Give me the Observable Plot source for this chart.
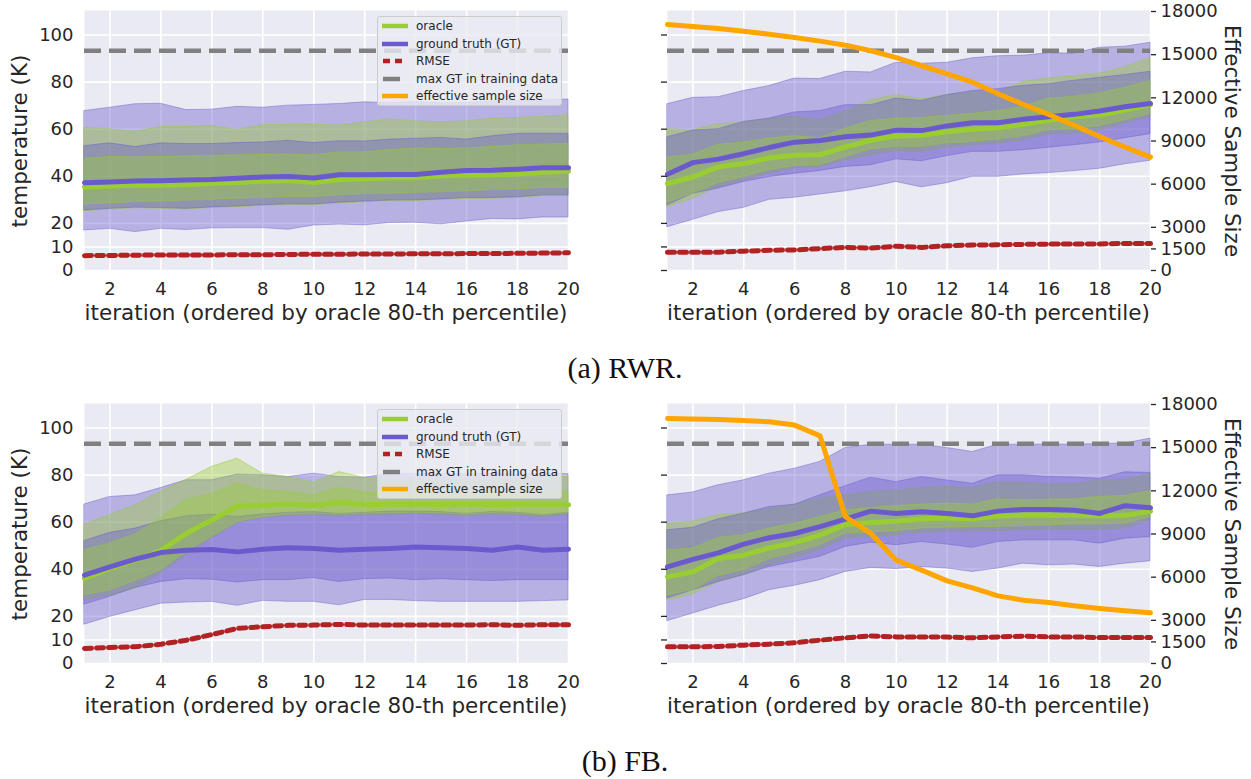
<!DOCTYPE html>
<html>
<head>
<meta charset="utf-8">
<script src="https://cdn.jsdelivr.net/npm/d3@7"></script>
<script src="https://cdn.jsdelivr.net/npm/@observablehq/plot@0.6"></script>
<style>
  html, body { margin: 0; padding: 0; background: #ffffff; }
  #fig { position: relative; width: 1251px; height: 779px; overflow: hidden; font-family: "DejaVu Sans", sans-serif; color: #262626; }
  .panel { position: absolute; }
  .lbl { position: absolute; white-space: nowrap; line-height: 1; font-size: 21.5px; color: #262626; }
  .cap { position: absolute; white-space: nowrap; line-height: 1; font-family: "Liberation Serif", serif; font-size: 30px; color: #111; transform: translate(-50%, -50%); }
  .legend { position: absolute; box-sizing: border-box; background: rgba(234,234,242,0.8); border: 1px solid #cccccc; border-radius: 3px; }
  .legrow { position: absolute; left: 0; height: 14px; font-size: 12px; line-height: 14px; }
  .legrow svg { position: absolute; left: 3px; top: 2px; }
  .legrow span { position: absolute; left: 38px; top: 0; white-space: nowrap; color: #262626; }
</style>
</head>
<body>
<div id="fig"></div>
<script>
// ---------------- data ----------------
const iterations = [1,2,3,4,5,6,7,8,9,10,11,12,13,14,15,16,17,18,19,20];
const tempTicks = [0,10,20,40,60,80,100];
const iterTicks = [2,4,6,8,10,12,14,16,18,20];
const essTicks = [0,1500,3000,6000,9000,12000,15000,18000];
const maxGT = 93.3;

// quantile bands: [outer low, inner low, median, inner high, outer high]
// (a) RWR, left panel
const rwrLeftGT = [
  [17.0,17.7,16.3,17.7,17.2,17.9,18.0,18.0,17.3,19.1,19.5,19.2,20.2,20.3,19.6,20.8,21.9,21.7,22.5,22.5],
  [25.5,26.2,26.7,26.5,26.2,26.8,27.2,27.7,28.1,28.0,28.8,29.3,29.7,29.8,30.2,30.8,30.8,31.1,31.9,31.9],
  [37.3,37.6,38.0,38.1,38.4,38.6,39.2,39.7,39.9,39.3,40.7,40.7,40.8,40.8,41.7,42.5,42.6,43.0,43.6,43.6],
  [52.8,54.0,52.4,54.0,53.7,53.7,54.1,54.4,55.1,54.1,54.9,54.8,55.6,55.9,56.3,55.6,57.0,58.0,58.1,58.0],
  [67.7,69.1,70.6,70.8,68.1,68.3,69.5,69.1,70.0,70.3,70.7,71.4,71.0,71.5,71.0,71.2,71.8,72.0,72.3,72.6]
];
const rwrLeftOracle = [
  [25.2,25.9,26.4,26.2,25.9,26.5,26.9,27.4,27.8,27.7,28.5,29.0,29.4,29.5,29.9,30.5,30.5,30.8,31.6,31.6],
  [28.0,28.5,29.1,29.3,29.7,30.0,30.5,30.8,31.2,31.2,31.9,32.5,32.6,33.0,33.2,33.6,34.2,34.4,35.0,35.0],
  [35.5,35.9,36.2,36.2,36.5,36.9,37.4,37.9,38.2,37.4,38.6,39.0,39.3,39.4,40.2,40.4,40.5,41.0,41.7,42.1],
  [47.5,48.2,48.1,48.2,48.4,48.7,48.9,49.1,49.2,48.9,50.2,50.2,51.2,51.8,51.6,51.8,52.5,53.2,53.5,53.8],
  [60.6,60.0,58.9,60.9,60.9,61.4,59.7,61.7,61.8,61.9,61.6,62.8,64.2,63.3,63.0,63.3,64.5,64.8,65.2,65.9]
];
const rwrLeftRMSE = [6.3,6.4,6.5,6.6,6.6,6.6,6.7,6.7,6.8,6.9,6.9,7.0,7.0,7.1,7.1,7.2,7.2,7.3,7.4,7.5];

// (a) RWR, right panel
const rwrRightGT = [
  [18.4,21.5,24.8,26.6,30.0,30.9,32.3,33.6,35.4,37.6,35.3,37.1,39.8,39.8,40.8,41.4,42.2,43.2,45.1,46.6],
  [27.7,32.6,34.8,37.6,39.7,41.1,42.3,44.0,44.7,47.2,46.4,48.6,50.4,50.4,51.1,52.1,53.2,54.4,56.2,57.9],
  [40.9,45.8,47.3,49.6,52.2,54.5,55.2,56.8,57.5,59.6,59.4,61.4,62.7,62.7,64.2,65.3,66.3,67.7,69.5,70.9],
  [56.6,59.4,60.0,63.1,64.5,67.1,67.7,70.2,70.2,73.0,72.0,74.5,76.2,77.0,78.4,79.1,80.6,81.8,83.0,84.4],
  [70.6,73.3,73.6,76.2,78.3,81.5,81.3,84.4,84.1,88.2,87.8,88.2,90.1,91.0,91.2,92.2,92.1,94.6,95.0,96.7]
];
const rwrRightOracle = [
  [26.9,30.5,35.4,38.3,41.1,43.3,44.0,46.8,48.9,50.7,50.4,52.1,53.2,53.9,55.3,57.7,58.2,59.4,62.4,65.2],
  [28.8,32.6,37.1,39.7,42.6,44.4,44.7,48.2,51.5,52.5,52.5,53.9,54.6,55.6,57.0,59.6,60.0,61.4,63.8,66.6],
  [36.9,39.7,44.0,45.4,47.8,48.9,49.2,52.5,55.3,57.1,57.4,58.9,60.0,60.6,62.1,63.8,65.3,66.0,68.1,70.5],
  [47.9,49.2,53.4,54.3,56.0,57.1,56.2,60.2,63.5,64.5,64.8,65.6,66.6,67.7,69.5,73.0,73.8,75.2,77.6,80.4],
  [60.0,59.6,62.1,62.8,64.3,65.3,63.8,67.4,72.3,74.5,72.7,74.5,75.6,75.6,80.1,81.5,82.5,83.7,86.2,90.1]
];
const rwrRightRMSE = [7.8,7.8,7.8,8.2,8.6,8.7,9.3,9.8,9.5,10.3,9.8,10.5,10.8,10.9,11.1,11.2,11.2,11.3,11.5,11.5];
const rwrRightESS = [17100,16960,16820,16630,16420,16190,15940,15660,15270,14800,14230,13670,13090,12280,11540,10840,10080,9310,8570,7880];

// (b) FB, left panel
const fbLeftGT = [
  [16.5,19.8,22.6,25.4,25.9,26.2,24.5,26.6,26.2,26.2,24.7,27.0,27.0,26.5,26.2,26.2,26.2,26.2,26.5,26.8],
  [25.0,28.3,32.1,34.6,35.8,35.6,34.4,35.4,35.4,36.3,34.6,35.8,36.1,35.4,35.8,35.4,35.0,35.4,35.4,35.4],
  [37.5,41.0,44.3,47.1,48.1,48.4,47.4,48.5,49.1,48.8,48.1,48.5,48.8,49.5,49.1,48.8,48.1,49.5,48.1,48.5],
  [52.0,55.5,57.3,60.4,62.5,63.2,62.2,63.3,64.0,64.3,63.5,64.0,64.5,64.5,64.3,63.5,64.3,64.0,63.0,64.0],
  [67.5,70.7,71.4,74.5,77.8,77.8,80.2,79.9,79.2,80.6,79.2,78.9,80.6,80.5,80.5,80.3,80.6,80.2,80.5,80.4]
];
const fbLeftOracle = [
  [26.9,29.0,31.8,38.2,46.0,53.1,59.5,61.9,62.8,63.0,62.6,63.0,63.2,63.5,63.2,62.6,63.3,63.0,62.2,63.2],
  [29.0,31.1,35.0,39.6,47.4,53.8,60.1,62.2,63.2,63.6,63.2,63.6,63.8,64.0,63.8,63.2,63.8,63.6,62.8,63.8],
  [36.1,40.4,43.9,48.1,55.2,60.9,66.8,67.2,67.7,67.2,68.4,67.5,67.5,67.6,67.5,67.5,67.5,67.5,67.4,67.4],
  [48.1,51.0,54.8,61.6,69.4,72.0,76.4,73.5,72.8,71.4,74.5,72.5,72.5,72.0,72.0,72.5,72.0,72.5,72.0,73.0],
  [59.0,63.0,67.2,73.0,78.0,83.5,87.0,80.6,79.2,76.8,81.3,78.8,78.0,78.0,78.0,78.0,78.0,78.0,78.5,79.3]
];
const fbLeftRMSE = [6.4,6.8,7.1,8.2,9.9,12.3,14.9,15.6,16.2,16.3,16.6,16.3,16.3,16.3,16.3,16.3,16.5,16.2,16.5,16.5];

// (b) FB, right panel
const fbRightGT = [
  [18.0,21.2,24.5,27.3,31.1,33.0,35.4,38.9,40.6,40.1,41.0,40.3,38.9,40.3,42.4,41.7,42.0,41.0,42.4,43.4],
  [27.6,31.1,34.6,37.5,41.0,43.1,45.3,49.5,51.3,50.2,51.6,50.5,49.1,51.6,52.3,52.3,52.3,50.9,53.0,53.7],
  [41.0,44.2,47.0,50.7,53.4,55.2,58.1,61.3,64.7,63.7,64.4,63.7,62.7,64.7,65.4,65.4,65.1,63.7,67.0,66.1],
  [56.6,57.6,61.2,63.6,66.4,67.4,71.4,75.3,78.9,77.0,79.2,77.7,76.3,79.9,79.9,79.2,79.0,78.4,81.2,80.9],
  [71.4,72.6,75.7,77.8,80.6,82.7,85.6,91.5,92.9,92.9,92.9,91.5,89.8,92.9,92.9,93.0,92.9,93.2,93.4,95.5]
];
const fbRightOracle = [
  [26.9,29.3,34.6,37.5,41.7,44.8,48.1,53.1,53.8,54.5,55.5,55.9,56.2,56.2,56.6,56.9,56.9,56.9,57.3,60.8],
  [29.0,31.1,37.2,39.6,44.3,47.1,50.2,55.2,55.6,56.2,57.3,57.7,58.0,58.0,58.4,58.7,59.0,59.0,59.4,62.2],
  [36.8,38.9,44.6,46.0,49.1,51.3,54.5,59.0,59.9,60.4,61.5,61.8,61.5,62.6,62.9,62.9,62.9,62.6,62.9,64.6],
  [48.1,48.8,53.3,54.5,57.3,59.4,62.2,65.1,66.0,66.9,67.5,67.9,67.5,69.7,69.3,69.6,69.7,70.8,71.1,73.1],
  [59.3,60.3,63.0,63.8,65.5,67.5,70.0,71.4,72.8,73.5,74.5,75.0,74.5,77.0,76.7,76.0,76.0,77.7,77.8,80.5]
];
const fbRightRMSE = [7.1,7.1,7.2,7.8,8.2,8.8,9.9,10.9,11.7,11.3,11.3,11.2,10.9,11.3,11.6,11.3,11.3,11.0,11.0,11.0];
const fbRightESS = [17030,17000,16950,16890,16800,16570,15820,10200,9040,7180,6490,5740,5260,4700,4400,4240,4010,3820,3660,3520];

const legendItems = ["oracle", "ground truth (GT)", "RMSE", "max GT in training data", "effective sample size"];
const axisLabels = { temp: "temperature (K)", iter: "iteration (ordered by oracle 80-th percentile)", ess: "Effective Sample Size" };
const captions = ["(a) RWR.", "(b) FB."];

// ---------------- styling ----------------
const C = { bg: "#EAEAF2", gt: "#6A5ACD", oracle: "#9ACD32", rmse: "#B22222", maxgt: "#808080", ess: "#FFA500", text: "#262626" };
const H = 330, MT = 10, MB = 60;
const TEMP_DOMAIN = [0, 110.4];
const ESS_DOMAIN = [0, 18070];

const fig = document.getElementById("fig");

function place(el, left, top) {
  el.classList.add("panel");
  el.style.left = left + "px";
  el.style.top = top + "px";
  fig.appendChild(el);
}

function rowsFor(gt, orc, rmse) {
  return iterations.map((x, i) => ({
    x,
    g0: gt[0][i], g1: gt[1][i], g2: gt[2][i], g3: gt[3][i], g4: gt[4][i],
    o0: orc[0][i], o1: orc[1][i], o2: orc[2][i], o3: orc[3][i], o4: orc[4][i],
    rmse: rmse[i]
  }));
}

function band(rows, lo, hi, color) {
  return Plot.areaY(rows, { x: "x", y1: lo, y2: hi, fill: color, fillOpacity: 0.4, stroke: color, strokeOpacity: 0.45, strokeWidth: 1 });
}

function tempPanel({ gt, orc, rmse, left, top, width, ml, mr, labels }) {
  const rows = rowsFor(gt, orc, rmse);
  const marks = [
    Plot.frame({ fill: C.bg, stroke: null }),
    Plot.gridX(iterTicks, { stroke: "white", strokeOpacity: 1, strokeWidth: 1.6 }),
    Plot.gridY(tempTicks, { stroke: "white", strokeOpacity: 1, strokeWidth: 1.6 }),
    band(rows, "g0", "g4", C.gt),
    band(rows, "o0", "o4", C.oracle),
    band(rows, "g1", "g3", C.gt),
    band(rows, "o1", "o3", C.oracle),
    Plot.ruleY([maxGT], { stroke: C.maxgt, strokeWidth: 4.5, strokeDasharray: "17,8" }),
    Plot.lineY(rows, { x: "x", y: "rmse", stroke: C.rmse, strokeWidth: 5, strokeDasharray: "7,5" }),
    Plot.lineY(rows, { x: "x", y: "o2", stroke: C.oracle, strokeWidth: 5, strokeLinejoin: "round" }),
    Plot.lineY(rows, { x: "x", y: "g2", stroke: C.gt, strokeWidth: 5, strokeLinejoin: "round" }),
    Plot.axisX(iterTicks, { tickSize: 0, tickPadding: 12, label: null, fontSize: 18 }),
    labels
      ? Plot.axisY(tempTicks, { tickSize: 0, tickPadding: 11, label: null, fontSize: 18 })
      : Plot.axisY(tempTicks, { tickSize: 6, tickPadding: 2, tickFormat: () => "", label: null, strokeWidth: 1.3 })
  ];
  const svg = Plot.plot({
    width, height: H,
    marginLeft: ml, marginRight: mr, marginTop: MT, marginBottom: MB,
    x: { domain: [1, 20] },
    y: { domain: TEMP_DOMAIN },
    style: { background: "transparent", fontFamily: "DejaVu Sans", fontSize: "18px", color: C.text, overflow: "visible" },
    marks
  });
  place(svg, left, top);
}

function essPanel({ ess, left, top, width, ml, mr }) {
  const rows = iterations.map((x, i) => ({ x, ess: ess[i] }));
  const svg = Plot.plot({
    width, height: H,
    marginLeft: ml, marginRight: mr, marginTop: MT, marginBottom: MB,
    x: { domain: [1, 20], axis: null },
    y: { domain: ESS_DOMAIN },
    style: { background: "transparent", fontFamily: "DejaVu Sans", fontSize: "18px", color: C.text, overflow: "visible" },
    marks: [
      Plot.lineY(rows, { x: "x", y: "ess", stroke: C.ess, strokeWidth: 5, strokeLinejoin: "round" }),
      Plot.axisY(essTicks, { anchor: "right", tickSize: 5, tickPadding: 5, tickFormat: d => String(d), label: null, fontSize: 18, strokeWidth: 1.3 })
    ]
  });
  place(svg, left, top);
}

function label(text, cx, cy, rot) {
  const d = document.createElement("div");
  d.className = "lbl";
  d.textContent = text;
  d.style.left = cx + "px";
  d.style.top = cy + "px";
  d.style.transform = "translate(-50%, -50%)" + (rot ? ` rotate(${rot}deg)` : "");
  fig.appendChild(d);
}

function caption(text, cx, cy) {
  const d = document.createElement("div");
  d.className = "cap";
  d.textContent = text;
  d.style.left = cx + "px";
  d.style.top = cy + "px";
  fig.appendChild(d);
}

function legend(left, top) {
  const box = document.createElement("div");
  box.className = "legend";
  box.style.left = left + "px";
  box.style.top = top + "px";
  box.style.width = "185px";
  box.style.height = "90px";
  const handles = [
    `<line x1="1" x2="27" y1="5" y2="5" stroke="${C.oracle}" stroke-width="4.5"/>`,
    `<line x1="1" x2="27" y1="5" y2="5" stroke="${C.gt}" stroke-width="4.5"/>`,
    `<line x1="2" x2="21" y1="5" y2="5" stroke="${C.rmse}" stroke-width="4.5" stroke-dasharray="7,5"/>`,
    `<line x1="2" x2="19" y1="5" y2="5" stroke="${C.maxgt}" stroke-width="4.5"/>`,
    `<line x1="1" x2="27" y1="5" y2="5" stroke="${C.ess}" stroke-width="4.5"/>`
  ];
  legendItems.forEach((t, i) => {
    const r = document.createElement("div");
    r.className = "legrow";
    r.style.top = (2 + i * 17.5) + "px";
    r.innerHTML = `<svg width="30" height="10">${handles[i]}</svg><span>${t}</span>`;
    box.appendChild(r);
  });
  fig.appendChild(box);
}

// ---------------- layout ----------------
const rows2 = [
  { off: 0, L: [rwrLeftGT, rwrLeftOracle, rwrLeftRMSE], R: [rwrRightGT, rwrRightOracle, rwrRightRMSE, rwrRightESS], cap: captions[0] },
  { off: 393, L: [fbLeftGT, fbLeftOracle, fbLeftRMSE], R: [fbRightGT, fbRightOracle, fbRightRMSE, fbRightESS], cap: captions[1] }
];

rows2.forEach(r => {
  tempPanel({ gt: r.L[0], orc: r.L[1], rmse: r.L[2], left: 0, top: r.off, width: 620, ml: 84, mr: 52, labels: true });
  tempPanel({ gt: r.R[0], orc: r.R[1], rmse: r.R[2], left: 620, top: r.off, width: 631, ml: 47, mr: 101, labels: false });
  essPanel({ ess: r.R[3], left: 620, top: r.off, width: 631, ml: 47, mr: 101 });
  legend(377, r.off + 16);
  label(axisLabels.temp, 20, r.off + 141, -90);
  label(axisLabels.iter, 326, r.off + 313, 0);
  label(axisLabels.iter, 908.5, r.off + 313, 0);
  label(axisLabels.ess, 1232, r.off + 141, 90);
  caption(r.cap, 625, r.off + 368);
});
</script>
</body>
</html>
